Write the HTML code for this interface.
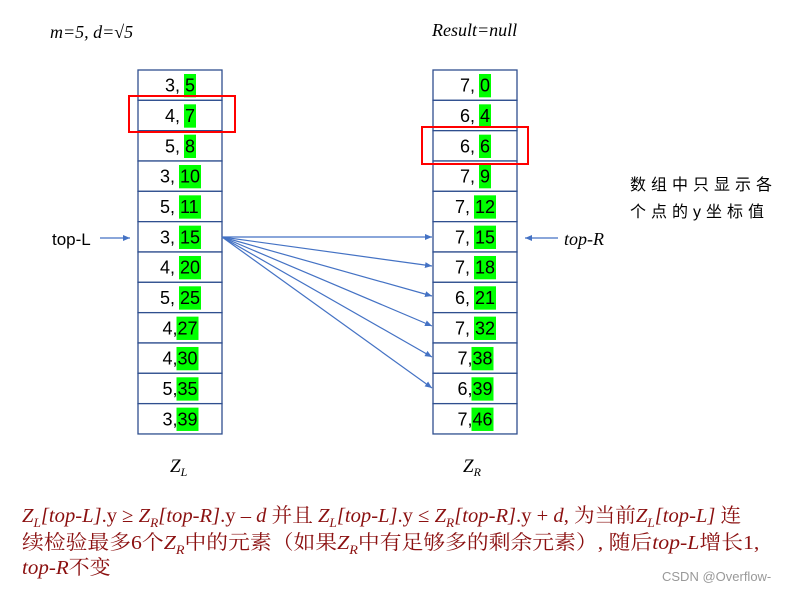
<!DOCTYPE html>
<html><head><meta charset="utf-8"><style>
body{margin:0;background:#fff;width:792px;height:591px;overflow:hidden}
svg text{font-family:"Liberation Sans","Noto Sans CJK SC",sans-serif}
.s{font-family:"Liberation Serif","Noto Serif CJK SC",serif;font-style:italic}
.b{position:absolute;left:22px;font-family:"Liberation Serif","Noto Serif CJK SC",serif;color:#8b1010;font-size:20px;white-space:nowrap;transform-origin:0 0}
.b i{font-style:italic}
</style></head><body>
<svg width="792" height="591" style="position:absolute;left:0;top:0">
<defs><marker id="a" markerWidth="8" markerHeight="8" refX="7" refY="4" orient="auto" markerUnits="userSpaceOnUse"><path d="M0,1 L7,4 L0,7 z" fill="#4472c4"/></marker></defs>
<text x="50" y="38" class="s" font-size="18">m=5, d=√5</text>
<text x="432" y="36" class="s" font-size="18">Result=null</text>
<g id="cols"></g>
<rect x="129" y="96" width="106" height="36" fill="none" stroke="#f00" stroke-width="2"/>
<rect x="422" y="127" width="106" height="37" fill="none" stroke="#f00" stroke-width="2"/>
<g stroke="#4472c4" stroke-width="1.2" marker-end="url(#a)">
<line x1="222" y1="237" x2="432" y2="237"/>
<line x1="222" y1="237" x2="432" y2="266"/>
<line x1="222" y1="237" x2="432" y2="296"/>
<line x1="222" y1="237" x2="432" y2="326"/>
<line x1="222" y1="237" x2="432" y2="357"/>
<line x1="222" y1="237" x2="432" y2="388"/>
<line x1="100" y1="238" x2="130" y2="238"/>
<line x1="558" y1="238" x2="525" y2="238"/>
</g>
<text x="52" y="245" font-size="17">top-L</text>
<text x="564" y="245" class="s" font-size="18">top-R</text>
<text x="630" y="190" font-size="16" style="letter-spacing:5px">数组中只显示各</text>
<text x="630" y="217" font-size="16" style="letter-spacing:5px">个点的y坐标值</text>
<text x="170" y="472" class="s" font-size="19">Z<tspan font-size="12" dy="4">L</tspan></text>
<text x="463" y="472" class="s" font-size="19">Z<tspan font-size="12" dy="4">R</tspan></text>
<text x="662" y="581" font-size="13" fill="#999">CSDN @Overflow-</text>
</svg>
<div class="b" style="top:499px;transform:scaleX(1.03)"><i>Z<sub style="font-size:13px">L</sub>[top-L]</i>.y ≥ <i>Z<sub style="font-size:13px">R</sub>[top-R]</i>.y – <i>d</i> 并且 <i>Z<sub style="font-size:13px">L</sub>[top-L]</i>.y ≤ <i>Z<sub style="font-size:13px">R</sub>[top-R]</i>.y + <i>d</i>, 为当前<i>Z<sub style="font-size:13px">L</sub>[top-L]</i> 连</div>
<div class="b" style="top:526px;transform:scaleX(1.09)">续检验最多6个<i>Z<sub style="font-size:13px">R</sub></i>中的元素（如果<i>Z<sub style="font-size:13px">R</sub></i>中有足够多的剩余元素）, 随后<i>top-L</i>增长1,</div>
<div class="b" style="top:551px;transform:scaleX(1.05)"><i>top-R</i>不变</div>
<script>
var L=[[3,5],[4,7],[5,8],[3,10],[5,11],[3,15],[4,20],[5,25],[4,27,1],[4,30,1],[5,35,1],[3,39,1]];
var R=[[7,0],[6,4],[6,6],[7,9],[7,12],[7,15],[7,18],[6,21],[7,32],[7,38,1],[6,39,1],[7,46,1]];
var h=30.33,s='';
function col(x,d){for(var i=0;i<12;i++){var y=70+i*h;s+='<rect x="'+x+'" y="'+y+'" width="84" height="'+h+'" fill="#fff" stroke="#2f4f8f" stroke-width="1.3"/>';
var a=d[i][0]+(d[i][2]?',':', '),b=''+d[i][1];var aw=d[i][2]?15:20;var w=b.length*10;var cx=x+42;var sx=cx-(aw+w)/2;var bx=sx+aw;
s+='<rect x="'+(bx-1)+'" y="'+(y+4)+'" width="'+(w+2)+'" height="'+(h-7)+'" fill="#00ff00"/>';
s+='<text x="'+sx+'" y="'+(y+h/2+6.5)+'" font-size="18">'+a+'</text>';
s+='<text x="'+bx+'" y="'+(y+h/2+6.5)+'" font-size="18">'+b+'</text>';}}
col(138,L);col(433,R);
document.getElementById('cols').innerHTML=s;
</script>
</body></html>
